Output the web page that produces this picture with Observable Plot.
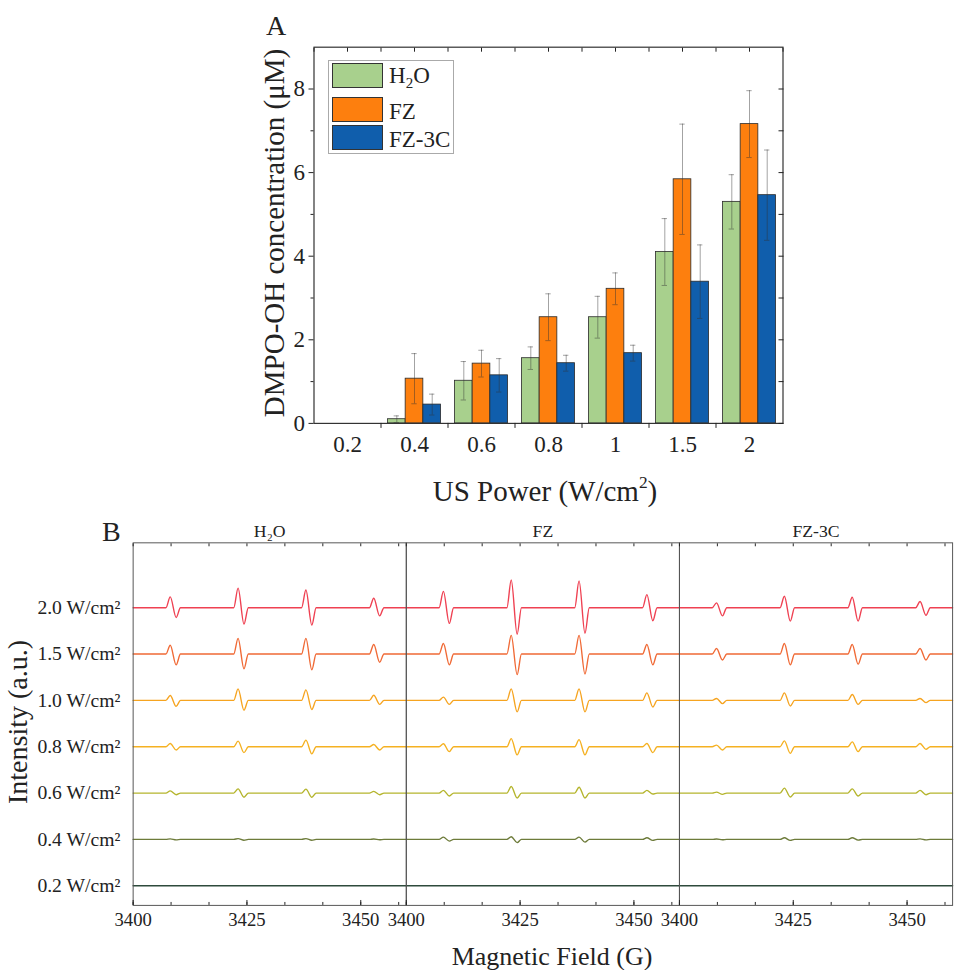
<!DOCTYPE html>
<html><head><meta charset="utf-8">
<script src="https://cdn.jsdelivr.net/npm/d3@7"></script>
<script src="https://cdn.jsdelivr.net/npm/@observablehq/plot@0.6"></script>
<style>
html,body{margin:0;padding:0;background:#fff;overflow:hidden;width:958px;height:970px}
#wrap{position:relative;width:958px;height:970px;overflow:hidden;font-family:"Liberation Serif",serif;color:#222}
.abs{position:absolute;white-space:nowrap;line-height:1}
#wrap svg{position:absolute;overflow:visible}
.sw{position:absolute;left:3px;width:51px;height:25px;border:1px solid #333;box-sizing:border-box}
.lt{position:absolute;left:60px;font-size:23px;line-height:23px;white-space:nowrap}
.lt sub{font-size:15px;line-height:0;vertical-align:-5px}
.ttl sup{font-size:0.6em;line-height:0;vertical-align:0.7em}
.ttl{transform:translate(-50%,-50%)}
.rot{transform:translate(-50%,-50%) rotate(-90deg)}
</style></head><body><div id="wrap"></div>
<script>
// ---------- Panel A data ----------
const powers = ["0.2", "0.4", "0.6", "0.8", "1", "1.5", "2"];
const seriesNames = ["H₂O", "FZ", "FZ-3C"];
const h2o    = [0, 0.10, 1.02, 1.56, 2.54, 4.10, 5.30];
const h2oErr = [0, 0.08, 0.46, 0.27, 0.50, 0.80, 0.65];
const fz     = [0, 1.07, 1.43, 2.54, 3.22, 5.84, 7.16];
const fzErr  = [0, 0.60, 0.32, 0.56, 0.38, 1.32, 0.80];
const fz3c   = [0, 0.45, 1.15, 1.44, 1.68, 3.39, 5.46];
const fz3cErr= [0, 0.25, 0.40, 0.19, 0.19, 0.88, 1.08];
const yTicksA = [0, 2, 4, 6, 8];

// ---------- Panel B data ----------
const samples = ["H₂O", "FZ", "FZ-3C"];
const bPowers = ["0.2", "0.4", "0.6", "0.8", "1.0", "1.5", "2.0"];
const lineCenters = [3408.8, 3423.7, 3438.6, 3453.5];
const fieldTicks = [3400, 3425, 3450];
// per power (0.2 … 2.0): [up1, down1, up2, down2, up3, down3, up4, down4] (a.u.)
const h2oSpec = [
  [0, 0, 0, 0, 0, 0, 0, 0],
  [0.5, 0.5, 0.8, 0.8, 0.8, 0.8, 0.4, 0.4],
  [2.3, 1.7, 4.3, 4.3, 4.0, 4.3, 1.7, 1.7],
  [3.3, 3.3, 5.7, 6.0, 6.7, 7.3, 2.3, 3.3],
  [5.0, 6.0, 11.7, 10.0, 10.7, 9.3, 5.3, 4.0],
  [9.0, 11.0, 16.0, 15.0, 16.0, 16.0, 9.7, 8.3],
  [11.0, 10.0, 20.0, 16.7, 18.0, 17.7, 9.7, 8.3]
];
const fzSpec = [
  [0, 0, 0, 0, 0, 0, 0, 0],
  [2.3, 1.7, 2.7, 3.3, 2.3, 2.7, 1.7, 1.0],
  [2.7, 3.0, 6.7, 5.0, 6.0, 5.0, 2.7, 1.0],
  [3.0, 5.0, 8.3, 8.3, 7.3, 8.3, 3.3, 6.0],
  [3.3, 4.0, 11.7, 11.7, 11.7, 11.7, 7.7, 6.7],
  [10.7, 11.0, 19.0, 21.0, 19.0, 20.3, 9.7, 11.0],
  [16.7, 16.0, 28.3, 27.0, 27.3, 26.0, 13.3, 13.3]
];
const fz3cSpec = [
  [0, 0, 0, 0, 0, 0, 0, 0],
  [0.4, 0.4, 1.7, 1.0, 1.7, 0.7, 0.5, 0.5],
  [1.0, 1.3, 5.0, 4.0, 4.3, 3.0, 2.7, 1.7],
  [1.7, 3.3, 6.0, 6.7, 5.0, 5.0, 3.3, 2.7],
  [2.0, 3.3, 7.7, 5.7, 6.0, 4.0, 2.0, 2.3],
  [5.7, 6.0, 10.7, 11.0, 9.7, 10.3, 5.7, 6.0],
  [5.0, 8.3, 11.7, 13.7, 10.7, 13.7, 6.3, 7.7]
];

// ---------- styles ----------
const barColors = ["#a8d08d", "#fd7f0e", "#105eac"];
const specColors = ["#2e4a3c", "#6d7b3a", "#b5b52e", "#f5b122", "#f6a420", "#f06a36", "#ef4152"];
const BW = 0.264;      // bar width in category units
const STEP = 47.2;     // vertical offset between spectra
const FONT = "Liberation Serif";

const wrap = document.getElementById("wrap");

// ---------- Panel A ----------
const valsBy = [h2o, fz, fz3c], errsBy = [h2oErr, fzErr, fz3cErr];
const barRows = [];
seriesNames.forEach((s, si) => powers.forEach((p, i) =>
  barRows.push({series: s, si, i, power: p, value: valsBy[si][i], err: errsBy[si][i]})));
const rows = barRows.filter(d => d.value > 0);
const cx = d => d.i + (d.si - 1) * BW;

const chartA = Plot.plot({
  width: 958, height: 505,
  marginLeft: 313.5, marginRight: 175.5, marginTop: 46.7, marginBottom: 82.1,
  style: {fontFamily: FONT, fontSize: "23px", color: "#222", background: "transparent"},
  x: {domain: [-0.5, 6.5]},
  y: {domain: [0, 9]},
  color: {domain: seriesNames, range: barColors},
  marks: [
    Plot.rectY(rows, {x1: d => cx(d) - BW / 2, x2: d => cx(d) + BW / 2, y1: 0, y2: "value", fill: "series", stroke: "#2a2a2a", strokeWidth: 0.8}),
    Plot.ruleX(rows, {x: cx, y1: d => d.value - d.err, y2: d => d.value + d.err, stroke: "#333", strokeOpacity: 0.45, strokeWidth: 1}),
    Plot.ruleY(rows, {y: d => d.value + d.err, x1: d => cx(d) - 0.04, x2: d => cx(d) + 0.04, stroke: "#333", strokeOpacity: 0.45}),
    Plot.ruleY(rows, {y: d => d.value - d.err, x1: d => cx(d) - 0.04, x2: d => cx(d) + 0.04, stroke: "#333", strokeOpacity: 0.45}),
    Plot.frame({stroke: "#333", strokeWidth: 1.2}),
    Plot.axisY({ticks: yTicksA, tickSize: 5, tickPadding: 4, label: null, fontSize: 23, fontFamily: FONT}),
    Plot.axisY({ticks: [1, 3, 5, 7], tickSize: 3, tickFormat: () => "", label: null}),
    Plot.axisY({anchor: "right", ticks: d3.range(0, 9), tickSize: -5, tickFormat: () => "", label: null}),
    Plot.axisX({ticks: d3.range(0, 7), tickSize: 0, tickPadding: 12, tickFormat: i => powers[i], label: null, fontSize: 23, fontFamily: FONT}),
    Plot.axisX({ticks: [0.5, 1.5, 2.5, 3.5, 4.5, 5.5], tickSize: 5, tickFormat: () => "", label: null}),
    Plot.axisX({anchor: "top", ticks: d3.range(-0.5, 6.6, 0.5), tickSize: -4, tickFormat: () => "", label: null})
  ]
});
chartA.style.left = "0px"; chartA.style.top = "0px";
wrap.appendChild(chartA);

// ---------- Panel B ----------
const specBy = [h2oSpec, fzSpec, fz3cSpec];
const specRows = [];
samples.forEach((s, si) => bPowers.forEach((p, k) => {
  const amp = specBy[si][k], base = k * STEP;
  const pts = [[3400, 0]];
  lineCenters.forEach((c, j) => {
    pts.push([c - 1.6, 0], [c - 0.65, amp[2 * j]], [c + 0.65, -amp[2 * j + 1]], [c + 1.6, 0]);
  });
  pts.push([3460, 0]);
  pts.forEach(([f, v]) => specRows.push({sample: s, power: p, field: f, y: base + v}));
}));
const baselines = bPowers.map((p, k) => k * STEP);
const minorB = d3.range(0, 8).map(k => 3400 + k * 25 / 3);

const chartB = Plot.plot({
  width: 975, height: 465,
  marginLeft: 135, marginRight: 6, marginTop: 38, marginBottom: 58,
  style: {fontFamily: FONT, fontSize: "19px", color: "#222", background: "transparent"},
  fx: {domain: samples, paddingInner: 0, paddingOuter: 0, label: null},
  x: {domain: [3400, 3460]},
  y: {domain: [-20, 349.3]},
  color: {domain: bPowers, range: specColors},
  marks: [
    Plot.line(specRows, {fx: "sample", x: "field", y: "y", z: "power", stroke: "power", strokeWidth: 1.4, curve: "monotone-x"}),
    Plot.frame({stroke: "#555", strokeWidth: 1}),
    Plot.axisFx({anchor: "top", tickSize: 0, tickPadding: 6, fontSize: 18, fontFamily: FONT, label: null}),
    Plot.axisY({ticks: baselines, tickFormat: d => bPowers[Math.round(d / STEP)] + " W/cm²", tickSize: 0, tickPadding: 13, fontSize: 20, fontFamily: FONT, label: null}),
    Plot.axisX({ticks: fieldTicks, tickSize: -5, tickPadding: 12, tickFormat: d => String(d), fontSize: 19, fontFamily: FONT, label: null}),
    Plot.axisX({ticks: minorB, tickSize: -3, tickFormat: () => "", label: null}),
    Plot.axisX({anchor: "top", ticks: minorB, tickSize: -3, tickFormat: () => "", label: null})
  ]
});
chartB.style.left = "0px"; chartB.style.top = "505px";
wrap.appendChild(chartB);

// ---------- Titles, panel letters & legend ----------
function addText(html, left, top, size, cls) {
  const d = document.createElement("div");
  d.className = "abs " + (cls || "");
  d.style.left = left + "px"; d.style.top = top + "px"; d.style.fontSize = size + "px";
  d.innerHTML = html;
  wrap.appendChild(d);
}
addText("A", 266, 12, 28);
addText("B", 102, 518, 28);
addText("DMPO-OH concentration (μM)", 273.5, 233, 29, "ttl rot");
addText("US Power (W/cm<sup>2</sup>)", 545, 491, 29, "ttl");
addText("Intensity (a.u.)", 18, 722, 28, "ttl rot");
addText("Magnetic Field (G)", 552, 957, 26, "ttl");

const leg = document.createElement("div");
leg.className = "abs";
leg.style.cssText = "left:328px;top:60px;width:126px;height:94px;border:1px solid #aaa;box-sizing:border-box;background:#fff";
const legTops = [2, 36, 64];
const legTextTops = [3, 39, 67];
const legLabels = ["H<sub>2</sub>O", "FZ", "FZ-3C"];
seriesNames.forEach((s, i) => {
  const sw = document.createElement("div");
  sw.className = "sw";
  sw.style.top = legTops[i] + "px";
  sw.style.background = barColors[i];
  leg.appendChild(sw);
  const t = document.createElement("div");
  t.className = "lt";
  t.style.top = legTextTops[i] + "px";
  t.innerHTML = legLabels[i];
  leg.appendChild(t);
});
wrap.appendChild(leg);
</script>
</body></html>
